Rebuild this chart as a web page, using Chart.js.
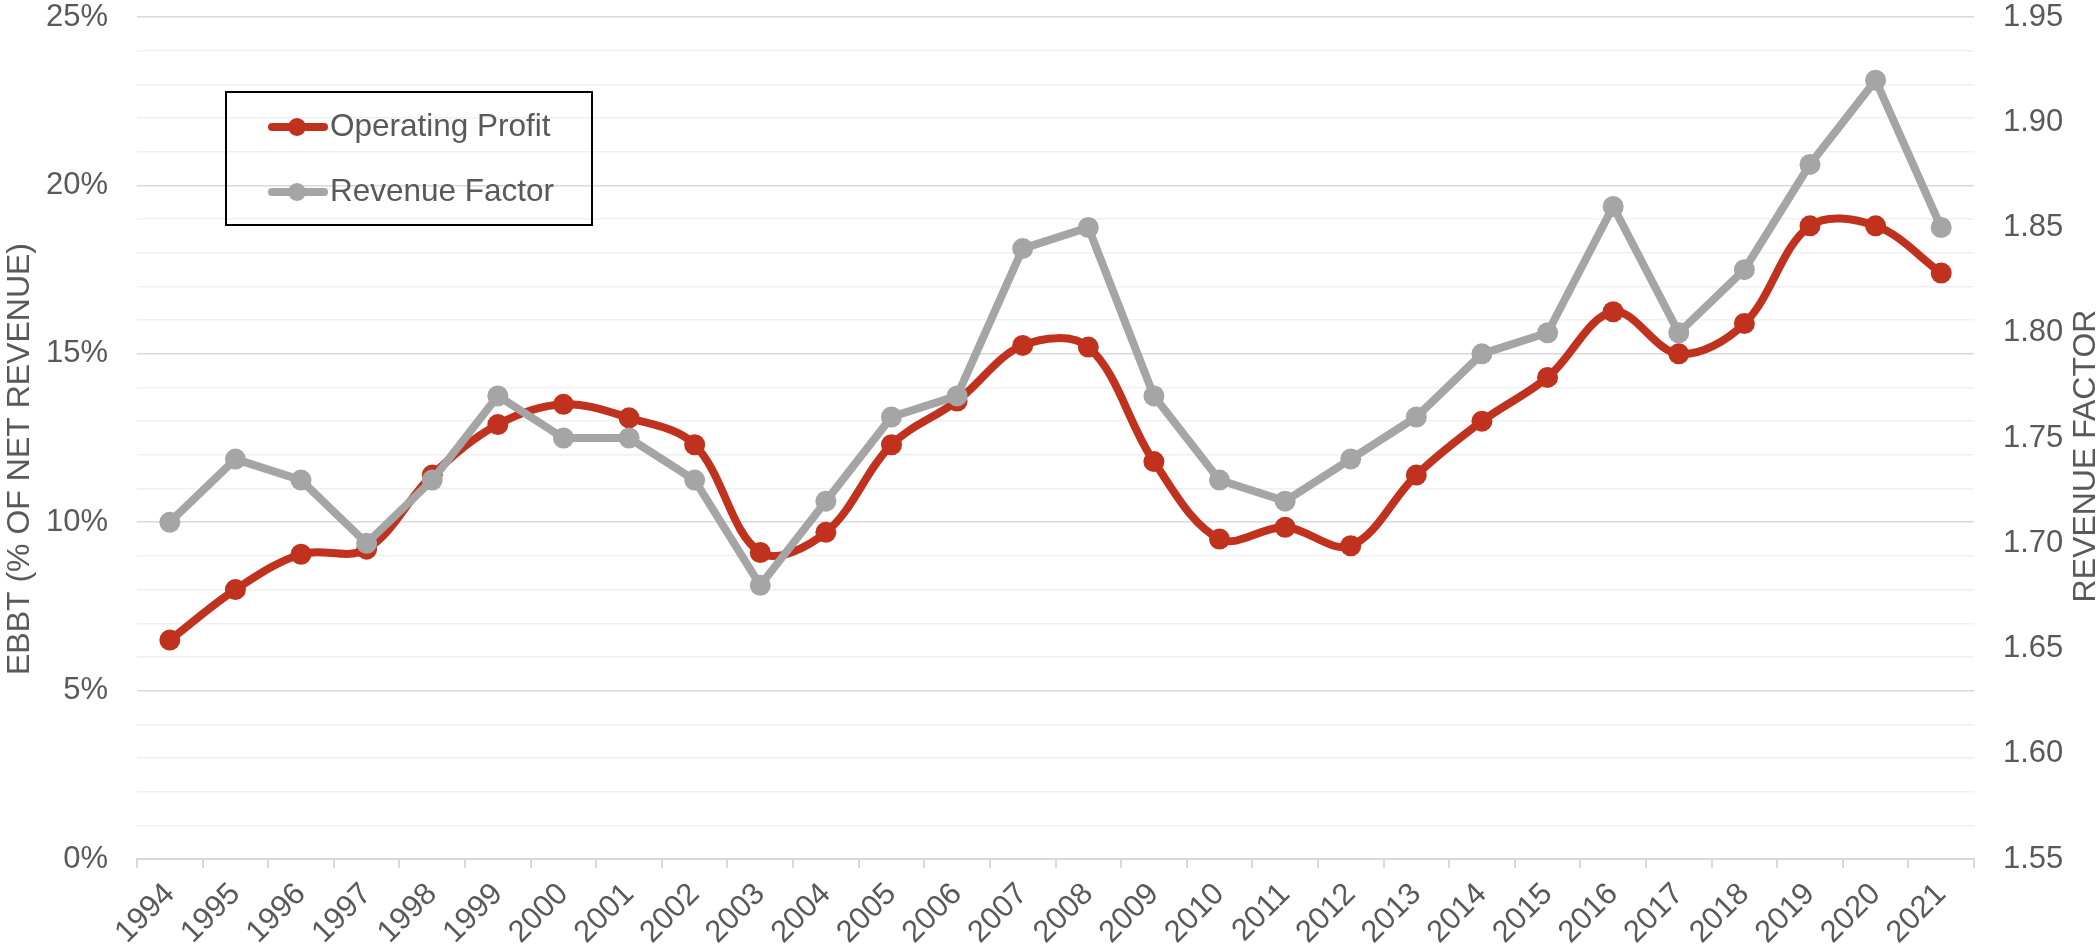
<!DOCTYPE html>
<html>
<head>
<meta charset="utf-8">
<title>Operating Profit vs Revenue Factor</title>
<script src="https://cdn.jsdelivr.net/npm/chart.js@4/dist/chart.umd.min.js"></script>
<style>
  html, body { margin: 0; padding: 0; background: #fff; }
  #wrap { width: 2100px; height: 951px; }
</style>
</head>
<body>
<div id="wrap"><canvas id="profitChart" width="2100" height="951"></canvas></div>
<script>
const years = ['1994', '1995', '1996', '1997', '1998', '1999', '2000', '2001', '2002', '2003',
               '2004', '2005', '2006', '2007', '2008', '2009', '2010', '2011', '2012', '2013',
               '2014', '2015', '2016', '2017', '2018', '2019', '2020', '2021'];
// EBBT, % of net revenue (left axis)
const operatingProfit = [6.5, 8.0, 9.05, 9.2, 11.4, 12.9, 13.5, 13.1, 12.3, 9.1,
                         9.7, 12.3, 13.6, 15.25, 15.2, 11.8, 9.5, 9.85, 9.3, 11.4,
                         13.0, 14.3, 16.25, 15.0, 15.9, 18.8, 18.8, 17.4];
// revenue factor (right axis)
const revenueFactor = [1.71, 1.74, 1.73, 1.70, 1.73, 1.77, 1.75, 1.75, 1.73, 1.68,
                       1.72, 1.76, 1.77, 1.84, 1.85, 1.77, 1.73, 1.72, 1.74, 1.76,
                       1.79, 1.80, 1.86, 1.80, 1.83, 1.88, 1.92, 1.85];
const leftTicks = [0, 5, 10, 15, 20, 25];
const rightTicks = [1.55, 1.60, 1.65, 1.70, 1.75, 1.80, 1.85, 1.90, 1.95];
const leftTitle = 'EBBT (% OF NET REVENUE)';
const rightTitle = 'REVENUE FACTOR';

const FONT = "'Liberation Sans', Arial, sans-serif";
const TEXT = '#595959';
const RED = '#C0321E';
const GREY = '#A5A5A5';

// legend drawn inside the plot, boxed like the original
const boxLegend = {
    id: 'boxLegend',
    afterDraw(chart) {
        const ctx = chart.ctx;
        ctx.save();
        ctx.strokeStyle = '#000';
        ctx.lineWidth = 2;
        ctx.strokeRect(226, 92, 366, 133);
        chart.data.datasets.forEach((ds, i) => {
            const y = 127 + i * 65;
            ctx.strokeStyle = ds.borderColor;
            ctx.lineWidth = 8;
            ctx.lineCap = 'round';
            ctx.beginPath();
            ctx.moveTo(272, y);
            ctx.lineTo(324, y);
            ctx.stroke();
            ctx.fillStyle = ds.borderColor;
            ctx.beginPath();
            ctx.arc(297, y, 9, 0, Math.PI * 2);
            ctx.fill();
            ctx.fillStyle = TEXT;
            ctx.font = '31.5px ' + FONT;
            ctx.textBaseline = 'middle';
            ctx.textAlign = 'left';
            ctx.fillText(ds.label, 330, y);
        });
        ctx.restore();
    }
};

// both axis titles read bottom-to-top, as in the original
const axisTitles = {
    id: 'axisTitles',
    afterDraw(chart) {
        const ctx = chart.ctx;
        [[leftTitle, 20, 459], [rightTitle, 2086, 456]].forEach(([txt, x, y]) => {
            ctx.save();
            ctx.fillStyle = TEXT;
            ctx.font = '32px ' + FONT;
            ctx.textAlign = 'center';
            ctx.textBaseline = 'middle';
            ctx.translate(x, y);
            ctx.rotate(-Math.PI / 2);
            ctx.fillText(txt, 0, 0);
            ctx.restore();
        });
    }
};

const ctx = document.getElementById('profitChart').getContext('2d');
new Chart(ctx, {
    type: 'line',
    data: {
        labels: years,
        datasets: [{
            label: 'Operating Profit',
            data: operatingProfit,
            yAxisID: 'y',
            borderColor: RED,
            backgroundColor: RED,
            borderWidth: 8,
            pointRadius: 10.5,
            pointBorderWidth: 0,
            pointBackgroundColor: RED,
            tension: 0.35,
            order: 2
        }, {
            label: 'Revenue Factor',
            data: revenueFactor,
            yAxisID: 'y1',
            borderColor: GREY,
            backgroundColor: GREY,
            borderWidth: 8,
            pointRadius: 10.5,
            pointBorderWidth: 0,
            pointBackgroundColor: GREY,
            tension: 0,
            order: 1
        }]
    },
    options: {
        responsive: false,
        animation: false,
        devicePixelRatio: 1,
        layout: { padding: 0 },
        plugins: {
            legend: { display: false },
            tooltip: { enabled: false }
        },
        scales: {
            x: {
                offset: true,
                grid: {
                    offset: true,
                    drawOnChartArea: false,
                    tickLength: 9,
                    color: '#d9d9d9',
                    lineWidth: 2
                },
                border: { color: '#d9d9d9', width: 2 },
                ticks: {
                    autoSkip: false,
                    minRotation: 45,
                    maxRotation: 45,
                    padding: 8,
                    color: TEXT,
                    font: { family: FONT, size: 31 }
                },
                afterFit(scale) { scale.height = 92; }
            },
            y: {
                position: 'left',
                min: 0,
                max: 25,
                afterBuildTicks(scale) {
                    const t = [];
                    for (let v = 0; v <= 25; v++) t.push({ value: v });
                    scale.ticks = t;
                },
                ticks: {
                    autoSkip: false,
                    padding: 0,
                    color: TEXT,
                    font: { family: FONT, size: 31, lineHeight: 1.1 },
                    callback: (v) => leftTicks.includes(v) ? v + '%' : ''
                },
                grid: {
                    tickLength: 29,
                    tickColor: 'rgba(0,0,0,0)',
                    lineWidth: 1.5,
                    color: (c) => leftTicks.includes(c.tick.value) ? '#d9d9d9' : '#f0f0f0'
                },
                border: { display: false },
                afterFit(scale) { scale.width = 137; }
            },
            y1: {
                position: 'right',
                min: 1.55,
                max: 1.95,
                afterBuildTicks(scale) {
                    scale.ticks = rightTicks.map(v => ({ value: v }));
                },
                ticks: {
                    autoSkip: false,
                    padding: 0,
                    color: TEXT,
                    font: { family: FONT, size: 31, lineHeight: 1.1 },
                    callback: (v) => Number(v).toFixed(2)
                },
                grid: {
                    drawOnChartArea: false,
                    tickLength: 29,
                    tickColor: 'rgba(0,0,0,0)'
                },
                border: { display: false },
                afterFit(scale) { scale.width = 126; }
            }
        }
    },
    plugins: [boxLegend, axisTitles]
});
</script>
</body>
</html>
